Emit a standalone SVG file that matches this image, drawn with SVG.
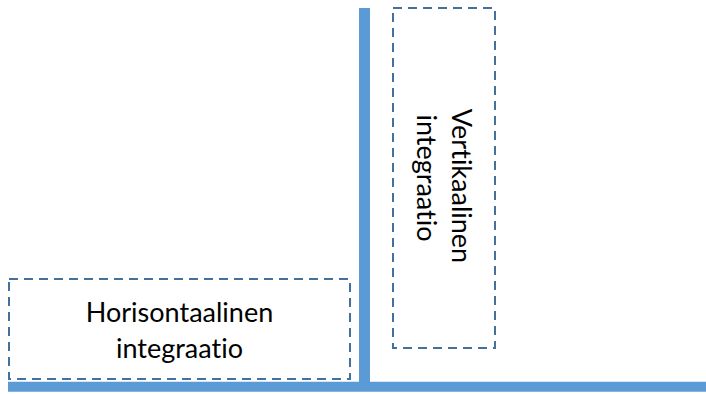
<svg xmlns="http://www.w3.org/2000/svg" width="706" height="394" viewBox="0 0 706 394">
  <style>
    .bar { stroke: #5b9bd5; fill: none; }
    .box { fill: none; stroke: #41719c; stroke-width: 2; stroke-dasharray: 9 6; }
    .lbl { font-family: Lato, "Open Sans", "Liberation Sans", sans-serif; font-size: 27px; fill: #000; text-anchor: middle; font-variant-ligatures: none; font-feature-settings: "liga" 0, "clig" 0; }
  </style>
  <g id="connectors">
    <line class="bar" x1="364.5" y1="8" x2="364.5" y2="387" stroke-width="11"/>
    <line class="bar" x1="8" y1="386.7" x2="706" y2="386.7" stroke-width="10"/>
  </g>
  <g id="horisontaalinen">
    <rect class="box" x="9" y="279" width="341" height="100"/>
    <text class="lbl" x="179.5" y="321.5">Horisontaalinen</text>
    <text class="lbl" x="179.5" y="358">integraatio</text>
  </g>
  <g id="vertikaalinen">
    <rect class="box" x="393" y="8" width="102" height="340"/>
    <text class="lbl" transform="translate(452 186) rotate(90)">Vertikaalinen</text>
    <text class="lbl" transform="translate(417 178) rotate(90)">integraatio</text>
  </g>
</svg>
